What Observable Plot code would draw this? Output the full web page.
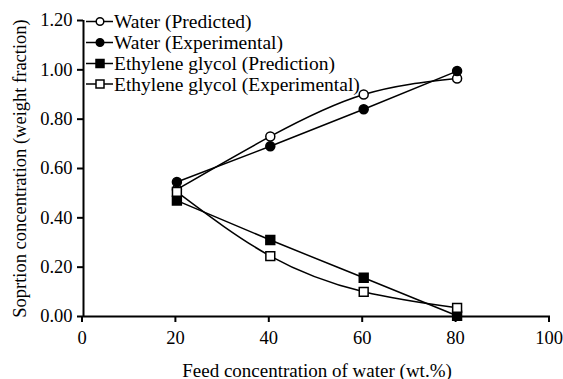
<!DOCTYPE html>
<html><head><meta charset="utf-8">
<script src="https://cdn.jsdelivr.net/npm/d3@7"></script>
<script src="https://cdn.jsdelivr.net/npm/@observablehq/plot@0.6"></script>
<style>
body{margin:0;background:#fff;}
#wrap{position:relative;width:563px;height:379px;}
#legend{position:absolute;left:0;top:0;}
#wrap svg text{font-family:"Liberation Serif",serif !important;}
</style></head><body>
<div id="wrap"></div>
<script>
const feed = [20, 40, 60, 80];
const waterPredicted = [0.515, 0.73, 0.90, 0.965];
const waterExperimental = [0.545, 0.69, 0.84, 0.995];
const egPrediction = [0.47, 0.31, 0.157, 0.003];
const egExperimental = [0.505, 0.245, 0.10, 0.035];
const seriesNames = ["Water (Predicted)", "Water (Experimental)", "Ethylene glycol (Prediction)", "Ethylene glycol (Experimental)"];
const xTicks = [0, 20, 40, 60, 80, 100];
const yTicks = [0, 0.2, 0.4, 0.6, 0.8, 1.0, 1.2];

const seriesValues = [waterPredicted, waterExperimental, egPrediction, egExperimental];
const symbols = ["circle", "circle", "square", "square"];
const fills = ["white", "black", "black", "white"];
const rows = [];
seriesValues.forEach((vals, s) => vals.forEach((v, i) => rows.push({series: seriesNames[s], x: feed[i], y: v, s})));

const chart = Plot.plot({
  width: 563, height: 379,
  marginLeft: 83, marginRight: 13, marginTop: 20, marginBottom: 63,
  style: "font-family: 'Liberation Serif', serif; font-size: 19px; color: black; background: white;",
  x: {domain: [0, 100]},
  y: {domain: [0, 1.2]},
  marks: [
    Plot.axisX({ticks: xTicks, tickSize: 6, tickPadding: 8, label: null, fontSize: 18.5, dx: -1.5, strokeWidth: 2}),
    Plot.axisX({ticks: [], label: "Feed concentration of water (wt.%)", labelAnchor: "center", labelArrow: "none", labelOffset: 60, fontSize: 19}),
    Plot.axisY({ticks: yTicks, tickSize: 6, tickPadding: 5, tickFormat: d3.format(".2f"), label: "Soprtion concentration (weight fraction)", labelAnchor: "center", labelArrow: "none", labelOffset: 71, fontSize: 18.5, strokeWidth: 2}),
    Plot.ruleY([0], {stroke: "black", strokeWidth: 2}),
    Plot.ruleX([0], {stroke: "black", strokeWidth: 2}),
    Plot.line(rows, {x: "x", y: "y", z: "series", curve: "natural", stroke: "black", strokeWidth: 1.5}),
    ...seriesNames.map((n, s) => Plot.dot(rows.filter(r => r.s === s), {x: "x", y: "y", symbol: symbols[s], r: s < 2 ? 4.5 : 5, fill: fills[s], stroke: "black", strokeWidth: 1.5}))
  ]
});
const wrap = document.getElementById("wrap");
wrap.appendChild(chart);

// legend overlay
const ns = "http://www.w3.org/2000/svg";
const lg = document.createElementNS(ns, "svg");
lg.setAttribute("id", "legend");
lg.setAttribute("width", 563); lg.setAttribute("height", 110);
const rowY = [21.5, 42.5, 63.5, 84];
seriesNames.forEach((n, s) => {
  const y = rowY[s];
  const line = document.createElementNS(ns, "line");
  line.setAttribute("x1", 86); line.setAttribute("x2", 113); line.setAttribute("y1", y); line.setAttribute("y2", y);
  line.setAttribute("stroke", "black"); line.setAttribute("stroke-width", 1.5);
  lg.appendChild(line);
  let m;
  if (symbols[s] === "circle") {
    m = document.createElementNS(ns, "circle");
    m.setAttribute("cx", 100); m.setAttribute("cy", y); m.setAttribute("r", 3.8);
  } else {
    m = document.createElementNS(ns, "rect");
    m.setAttribute("x", 96); m.setAttribute("y", y - 4); m.setAttribute("width", 8); m.setAttribute("height", 8);
  }
  m.setAttribute("fill", fills[s]); m.setAttribute("stroke", "black"); m.setAttribute("stroke-width", 1.5);
  lg.appendChild(m);
  const t = document.createElementNS(ns, "text");
  t.setAttribute("x", 114); t.setAttribute("y", y); t.setAttribute("dy", "0.35em");
  t.setAttribute("style", "font-family: 'Liberation Serif', serif; font-size: 19.5px;");
  t.textContent = n;
  lg.appendChild(t);
});
wrap.appendChild(lg);
</script>
</body></html>
